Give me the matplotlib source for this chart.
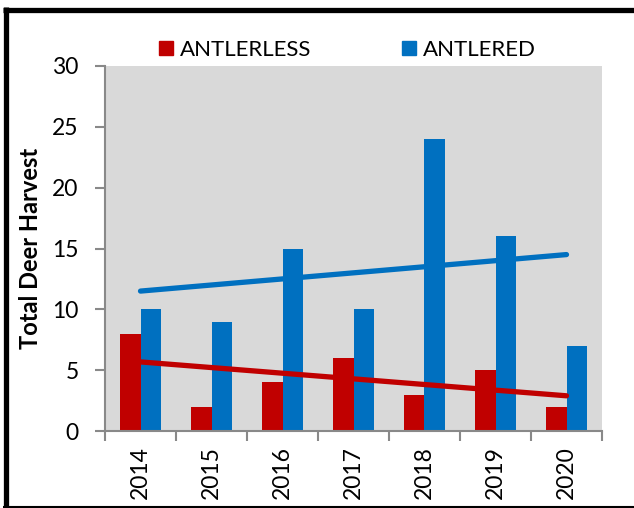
import matplotlib
matplotlib.use("Agg")
import matplotlib.pyplot as plt
import numpy as np
from matplotlib.lines import Line2D
from matplotlib.patches import Patch

years = ["2014", "2015", "2016", "2017", "2018", "2019", "2020"]
antlerless = [8, 2, 4, 6, 3, 5, 2]
antlered = [10, 9, 15, 10, 24, 16, 7]
series_names = ["ANTLERLESS", "ANTLERED"]
red = "#C00000"
blue = "#0070C0"
grid_gray = "#898989"

plt.rcParams['font.family'] = ['Lato', 'DejaVu Sans']

W, H = 634, 508
fig = plt.figure(figsize=(W / 100, H / 100), dpi=100)
ax = fig.add_axes([105 / W, 1 - 431 / H, (602 - 105) / W, (431 - 66) / H])
ax.set_facecolor("#D9D9D9")

x = np.arange(len(years))
w = 0.29
ax.bar(x - w / 2, antlerless, width=w, color=red, zorder=2, label=series_names[0])
ax.bar(x + w / 2, antlered, width=w, color=blue, zorder=2, label=series_names[1])

for vals, col in [(antlerless, red), (antlered, blue)]:
    k, b = np.polyfit(x, vals, 1)
    ax.plot(x, k * x + b, color=col, lw=3.8, solid_capstyle='round', zorder=3)

ax.set_xlim(-0.5, len(years) - 0.5)
ax.set_ylim(0, 30)
ax.set_yticks(np.arange(0, 31, 5))
ax.set_xticks(np.arange(-0.5, len(years), 1.0))
ax.set_xticklabels([])
ax.set_xticks(x, minor=True)
ax.set_xticklabels(years, minor=True, rotation=90, fontsize=16.5)
ax.tick_params(axis='x', which='minor', length=0, pad=11)
ax.tick_params(axis='x', which='major', length=7, width=1.5, color=grid_gray)
ax.tick_params(axis='y', length=7, width=1.5, color=grid_gray, labelsize=16.5, pad=12)

for s in ['top', 'right']:
    ax.spines[s].set_visible(False)
for s in ['left', 'bottom']:
    ax.spines[s].set_color(grid_gray)
    ax.spines[s].set_linewidth(1.5)

ax.set_ylabel("Total Deer Harvest", fontsize=17, fontweight='bold')
ax.yaxis.set_label_coords((42 - 105) / (602 - 105), 0.5)

handles = [Patch(color=red), Patch(color=blue)]
leg = fig.legend(handles, series_names, ncol=2, loc='center left',
                 bbox_to_anchor=(159 / W, 1 - 50 / H), frameon=False, fontsize=16,
                 handlelength=0.63, handleheight=0.63, handletextpad=0.3,
                 columnspacing=4.1, borderaxespad=0, borderpad=0)

# outer border
fig.add_artist(Line2D([5.5 / W, 5.5 / W], [0, 1 - 7 / H], transform=fig.transFigure,
                      color='black', lw=3.8, solid_capstyle='butt'))
fig.add_artist(Line2D([3 / W, 1], [1 - 9.5 / H, 1 - 9.5 / H], transform=fig.transFigure,
                      color='black', lw=3.8, solid_capstyle='butt'))
fig.add_artist(Line2D([3 / W, 1], [1.5 / H, 1.5 / H], transform=fig.transFigure,
                      color='black', lw=1.5, solid_capstyle='butt'))

fig.savefig("out.png", dpi=100)
